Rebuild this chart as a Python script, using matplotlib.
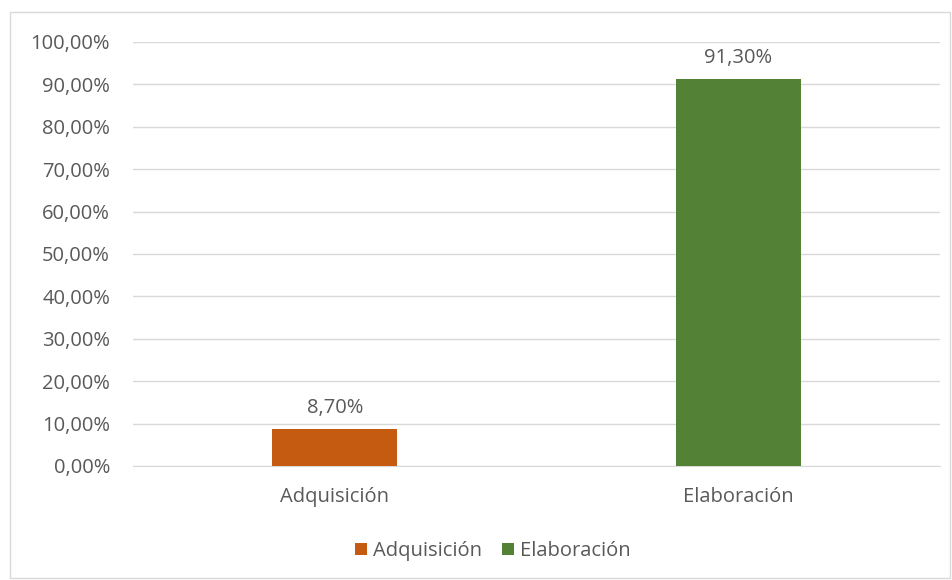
import matplotlib
matplotlib.use("Agg")
import matplotlib.pyplot as plt
from matplotlib.patches import Rectangle

categories = ["Adquisición", "Elaboración"]
values = [8.70, 91.30]
colors = ["#C55A11", "#538135"]
y_ticks = [0, 10, 20, 30, 40, 50, 60, 70, 80, 90, 100]

plt.rcParams['font.family'] = ['Open Sans', 'DejaVu Sans']
text_color = "#595959"
fs = 14.5

fig = plt.figure(figsize=(9.53, 5.8), dpi=100)
# chart border
fig.patches.append(Rectangle((10 / 953, 2 / 580), 940 / 953, 566 / 580, transform=fig.transFigure,
                             fill=False, edgecolor="#D9D9D9", linewidth=1))

ax = fig.add_axes([133 / 953, 1 - 466 / 580, (940 - 133) / 953, (466 - 42) / 580])

bars = ax.bar(range(len(categories)), values, width=0.31, color=colors, label=categories, zorder=3)
for b, v in zip(bars, values):
    ax.text(b.get_x() + b.get_width() / 2, v + 2.6, f"{v:.2f}%".replace(".", ","),
            ha="center", va="bottom", fontsize=fs, color=text_color)

ax.set_xlim(-0.5, 1.5)
ax.set_ylim(0, 100)
ax.set_yticks(y_ticks)
ax.set_yticklabels([f"{t:.2f}%".replace(".", ",") for t in y_ticks], fontsize=fs, color=text_color)
ax.set_xticks(range(len(categories)))
ax.set_xticklabels(categories, fontsize=fs, color=text_color)
ax.tick_params(axis="both", length=0)
ax.tick_params(axis="y", pad=16.5)
ax.tick_params(axis="x", pad=15)
ax.grid(axis="y", color="#D9D9D9", linewidth=1, zorder=0)
for s in ["top", "right", "left"]:
    ax.spines[s].set_visible(False)
ax.spines["bottom"].set_color("#D9D9D9")

fig.legend(handles=list(bars), labels=categories, loc="center", bbox_to_anchor=(493 / 953, 1 - 551 / 580),
           ncol=2, frameon=False, fontsize=fs, labelcolor=text_color, handlelength=0.6, handleheight=0.6,
           handletextpad=0.3, columnspacing=1.0)

fig.savefig("out.png", dpi=100)
